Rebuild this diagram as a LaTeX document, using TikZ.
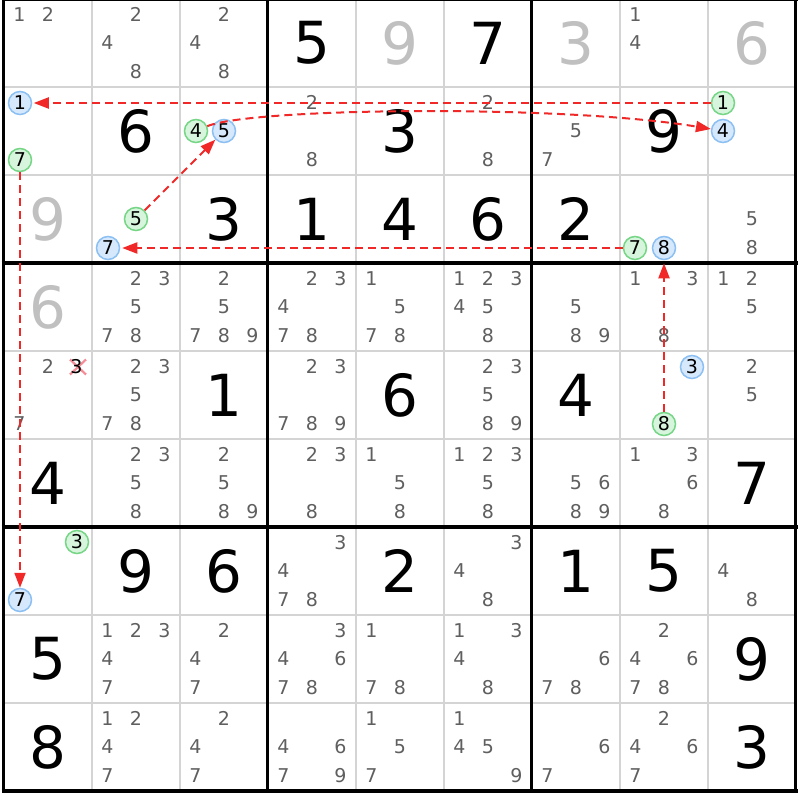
\documentclass[tikz,border=0pt]{standalone}
\usepackage{fontspec}
\setmainfont{DejaVu Sans}
\usetikzlibrary{arrows.meta}
\definecolor{candc}{RGB}{95,95,95}
\definecolor{ghostc}{RGB}{192,192,192}
\definecolor{thinc}{RGB}{212,212,212}
\definecolor{arrred}{RGB}{240,40,40}
\definecolor{gfill}{RGB}{214,245,220}
\definecolor{gdraw}{RGB}{118,214,134}
\definecolor{bfill}{RGB}{214,232,252}
\definecolor{bdraw}{RGB}{140,192,242}
\definecolor{xred}{RGB}{245,140,150}
\newcommand{\givenat}[4][black]{\node[bigst,text=#1] (v#2#3) at ({47.5+88*(#3-1)},{43+88*(#2-1)}) {#4};}
\newcommand{\candsat}[3]{\foreach \d in {#3}{\pgfmathtruncatemacro\sc{mod(\d-1,3)}\pgfmathtruncatemacro\sr{div(\d-1,3)}\node[candst] (p#1#2\d) at ({48+88*(#2-1)+28.5*(\sc-1)},{43+88*(#1-1)+28.5*(\sr-1)}) {\d};}}
\begin{document}
\begin{tikzpicture}[x=1pt,y=-1pt,
  bigst/.style={font=\fontsize{58}{60}\selectfont, inner sep=0pt},
  candst/.style={font=\fontsize{19}{22}\selectfont, text=candc, inner sep=0pt},
  gmark/.style={circle, draw=gdraw, fill=gfill, line width=1.5pt, minimum size=23pt, inner sep=0pt, font=\fontsize{19}{22}\selectfont},
  bmark/.style={circle, draw=bdraw, fill=bfill, line width=1.5pt, minimum size=23pt, inner sep=0pt, font=\fontsize{19}{22}\selectfont},
  thinline/.style={draw=thinc, line width=2pt},
  thickline/.style={draw=black, line width=3.5pt},
  arr/.style={draw=arrred, line width=2pt, dash pattern=on 8pt off 5pt, -{Triangle[length=15pt,width=11pt,fill=arrred]}},
  xmark/.style={draw=xred, line width=2.2pt}]
\useasboundingbox (0,0) rectangle (800,800);
\fill[white] (0,0) rectangle (800,800);
% grid
\foreach \i in {1,2,4,5,7,8}{
  \draw[thinline] ({3.5+88*\i},-1) -- ({3.5+88*\i},791);
  \draw[thinline] (3.5,{-1+88*\i}) -- (795.5,{-1+88*\i});
}
\foreach \i in {0,3,6,9}{
  \draw[thickline] ({3.5+88*\i},-3) -- ({3.5+88*\i},793);
  \draw[thickline] (1.5,{-1+88*\i}) -- (797.5,{-1+88*\i});
}
% givens
\givenat{1}{4}{5}
\givenat[ghostc]{1}{5}{9}
\givenat{1}{6}{7}
\givenat[ghostc]{1}{7}{3}
\givenat[ghostc]{1}{9}{6}
\givenat{2}{2}{6}
\givenat{2}{5}{3}
\givenat{2}{8}{9}
\givenat[ghostc]{3}{1}{9}
\givenat{3}{3}{3}
\givenat{3}{4}{1}
\givenat{3}{5}{4}
\givenat{3}{6}{6}
\givenat{3}{7}{2}
\givenat[ghostc]{4}{1}{6}
\givenat{5}{3}{1}
\givenat{5}{5}{6}
\givenat{5}{7}{4}
\givenat{6}{1}{4}
\givenat{6}{9}{7}
\givenat{7}{2}{9}
\givenat{7}{3}{6}
\givenat{7}{5}{2}
\givenat{7}{7}{1}
\givenat{7}{8}{5}
\givenat{8}{1}{5}
\givenat{8}{9}{9}
\givenat{9}{1}{8}
\givenat{9}{9}{3}
% candidates
\candsat{1}{1}{1,2}
\candsat{1}{2}{2,4,8}
\candsat{1}{3}{2,4,8}
\candsat{1}{8}{1,4}
\candsat{2}{4}{2,8}
\candsat{2}{6}{2,8}
\candsat{2}{7}{5,7}
\candsat{3}{9}{5,8}
\candsat{4}{2}{2,3,5,7,8}
\candsat{4}{3}{2,5,7,8,9}
\candsat{4}{4}{2,3,4,7,8}
\candsat{4}{5}{1,5,7,8}
\candsat{4}{6}{1,2,3,4,5,8}
\candsat{4}{7}{5,8,9}
\candsat{4}{8}{1,3,8}
\candsat{4}{9}{1,2,5}
\candsat{5}{1}{2,7}
\candsat{5}{2}{2,3,5,7,8}
\candsat{5}{4}{2,3,7,8,9}
\candsat{5}{6}{2,3,5,8,9}
\candsat{5}{9}{2,5}
\candsat{6}{2}{2,3,5,8}
\candsat{6}{3}{2,5,8,9}
\candsat{6}{4}{2,3,8}
\candsat{6}{5}{1,5,8}
\candsat{6}{6}{1,2,3,5,8}
\candsat{6}{7}{5,6,8,9}
\candsat{6}{8}{1,3,6,8}
\candsat{7}{4}{3,4,7,8}
\candsat{7}{6}{3,4,8}
\candsat{7}{9}{4,8}
\candsat{8}{2}{1,2,3,4,7}
\candsat{8}{3}{2,4,7}
\candsat{8}{4}{3,4,6,7,8}
\candsat{8}{5}{1,7,8}
\candsat{8}{6}{1,3,4,8}
\candsat{8}{7}{6,7,8}
\candsat{8}{8}{2,4,6,7,8}
\candsat{9}{2}{1,2,4,7}
\candsat{9}{3}{2,4,7}
\candsat{9}{4}{4,6,7,9}
\candsat{9}{5}{1,5,7}
\candsat{9}{6}{1,4,5,9}
\candsat{9}{7}{6,7}
\candsat{9}{8}{2,4,6,7}
% eliminated candidate
\coordinate (xc) at (78,367);
\draw[xmark] ([shift={(-8,-7.5)}]xc) -- ([shift={(8,7.5)}]xc);
\draw[xmark] ([shift={(-8,7.5)}]xc) -- ([shift={(8,-7.5)}]xc);
\node[candst,text=black] (p513) at (76.5,366.5) {3};
% marked candidates
\node[gmark] (g1) at (723,103) {1};
\node[bmark] (b1) at (20,103) {1};
\node[gmark] (g7a) at (20,160) {7};
\node[gmark] (g4) at (196,131) {4};
\node[bmark] (b5) at (224,131) {5};
\node[bmark] (b4) at (723,131) {4};
\node[gmark] (g5) at (136,219) {5};
\node[bmark] (b7) at (108,248) {7};
\node[gmark] (g7) at (635,248) {7};
\node[bmark] (b8) at (664,248) {8};
\node[bmark] (b3) at (692,367) {3};
\node[gmark] (g8) at (664,424) {8};
\node[gmark] (g3) at (77,542) {3};
\node[bmark] (b7b) at (20,600) {7};
% links
\draw[arr, shorten >=1.5pt] (g1) -- (b1);
\draw[arr] (g4) .. controls (250,108) and (560,104) .. (b4);
\draw[arr] (g5) -- (b5);
\draw[arr, shorten >=2pt] (g7) -- (b7);
\draw[arr, shorten >=3pt] (g8) -- (b8);
\draw[arr] (g7a) -- (b7b);
\end{tikzpicture}
\end{document}
